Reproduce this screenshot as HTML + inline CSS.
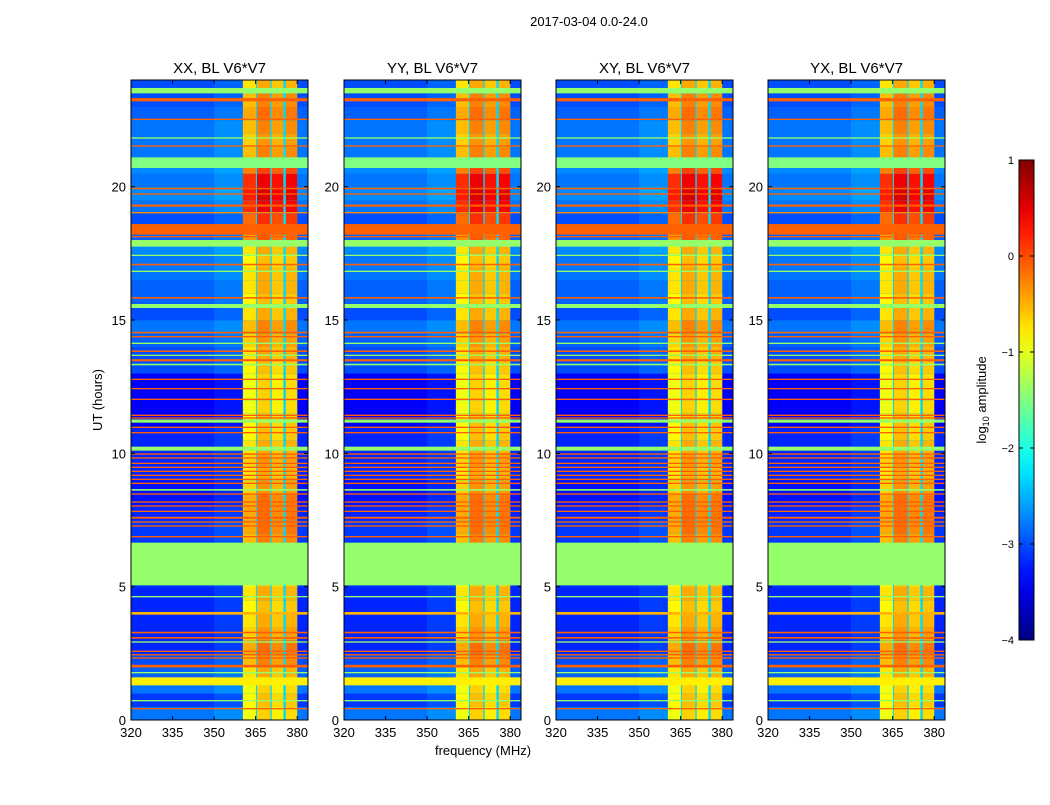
<!DOCTYPE html>
<html><head><meta charset="utf-8"><style>
body{margin:0;background:#fff;}
svg text{font-family:"Liberation Sans",sans-serif;fill:#000;}
</style></head><body>
<svg id="fig" width="1050" height="800" viewBox="0 0 1050 800" xmlns="http://www.w3.org/2000/svg">
<rect width="1050" height="800" fill="#fff"/>
<text x="589" y="26" font-size="13" text-anchor="middle">2017-03-04 0.0-24.0</text>
<text x="483" y="755" font-size="13" text-anchor="middle">frequency (MHz)</text>
<text transform="translate(102,400) rotate(-90)" font-size="13" text-anchor="middle">UT (hours)</text>
<text transform="translate(986,400) rotate(-90)" font-size="13" text-anchor="middle">log<tspan font-size="9" dy="3">10</tspan><tspan dy="-3"> amplitude</tspan></text>
</svg>
<script>
// ---- data ----
const panelTitles = ["XX, BL V6*V7","YY, BL V6*V7","XY, BL V6*V7","YX, BL V6*V7"];
const xTicks = [320,335,350,365,380];
const yTicks = [0,5,10,15,20];
const cbTicks = [1,0,-1,-2,-3,-4];
// background log10 amplitude per 0.5 h row, from 0 h to 24 h
const bgRows = [-2.8,-3.1,-2.8,-2.9,-3.0,-3.2,-3.2,-3.2,-3.2,-3.2,
                -3.1,-3.1,-3.1,-3.1,-3.1,-3.2,-3.3,-3.3,-3.2,-3.2,
                -3.2,-3.2,-3.4,-3.4,-3.4,-3.4,-3.0,-3.0,-2.9,-2.8,
                -3.0,-2.9,-2.9,-2.8,-2.8,-2.7,-2.9,-3.0,-2.8,-2.7,
                -2.8,-2.7,-2.8,-2.8,-2.8,-2.9,-3.0,-3.0];
// RFI band level per 0.5 h row
const rfiRows = [-0.8,-0.7,-0.8,-0.6,-0.4,-0.3,-0.5,-0.6,-0.7,-0.6,
                 -0.7,-0.7,-0.8,-0.4,-0.3,-0.3,-0.3,-0.5,-0.6,-0.5,
                 -0.6,-0.7,-0.7,-0.8,-0.8,-0.8,-0.7,-0.6,-0.5,-0.4,
                 -0.6,-0.7,-0.6,-0.6,-0.7,-0.6,-0.2,0.0,0.3,0.4,
                 0.3,-0.1,-0.4,-0.5,-0.4,-0.3,-0.4,-0.6];
// RFI column edges (MHz) and offsets
const rfiColStart = [360.4,365.5,370.8,375.9];
const rfiColEnd   = [365.1,370.3,375.0,380.0];
const rfiColOff   = [-0.15,0.15,0.0,0.1];
const gapValue = -2.3;
// horizontal RFI lines: start hour, thickness hour, value
const lineT = [23.5,23.2,22.5,21.8,21.5,20.7,19.9,19.7,19.25,19.0,18.55,18.2,18.1,17.75,17.4,17.05,16.8,15.8,15.45,14.5,14.35,14.1,13.8,13.65,13.45,13.3,12.75,12.4,12.0,11.4,11.3,11.15,10.95,10.75,10.1,
  9.95,9.8,9.6,9.45,9.3,9.15,9.0,8.85,8.6,8.45,8.15,8.0,7.8,7.55,7.4,7.25,6.85,5.05,4.6,3.95,3.25,3.05,2.9,2.55,2.42,2.3,1.97,1.75,1.3,0.7,0.4];
const lineH = [0.2,0.12,0.05,0.05,0.05,0.4,0.06,0.05,0.08,0.05,0.05,0.35,0.05,0.25,0.05,0.06,0.05,0.06,0.15,0.06,0.05,0.05,0.06,0.05,0.08,0.06,0.05,0.05,0.05,0.05,0.05,0.12,0.05,0.05,0.15,
  0.05,0.05,0.05,0.05,0.05,0.05,0.05,0.05,0.06,0.05,0.05,0.05,0.05,0.07,0.05,0.05,0.05,1.6,0.05,0.1,0.06,0.06,0.05,0.05,0.05,0.05,0.1,0.05,0.3,0.05,0.05];
const lineV = [-1.4,-0.1,-0.1,-1.4,-0.1,-1.5,-0.1,-0.1,-0.1,-0.3,-0.1,-0.1,-0.1,-1.4,-1.4,-0.1,-1.4,-0.1,-1.4,-0.1,-0.1,-1.4,-0.1,-1.4,-0.1,-1.4,-0.1,-0.1,-0.1,-0.1,-0.1,-1.4,-0.1,-0.1,-1.4,
  -0.1,-0.1,-0.1,-0.1,-0.1,-0.1,-0.1,-0.1,-1.4,-0.1,-0.1,-0.1,-0.1,-0.1,-0.1,-0.1,-0.1,-1.4,-1.4,-0.5,-0.1,-0.1,-1.4,-0.1,-0.1,-0.1,-0.1,-1.4,-0.8,-1.4,-0.1];
// ---- layout ----
const NS="http://www.w3.org/2000/svg";
const svg=document.getElementById('fig');
const panelX=[131,344,556,768], PW=177, PT=80, PB=720;
const fMin=320, fMax=383.9, tMin=0, tMax=24;
function jet(v){
  let n=Math.max(0,Math.min(1,(v+4)/5));
  const c=x=>Math.round(255*Math.max(0,Math.min(1,x)));
  const r=c(Math.min(4*n-1.5,-4*n+4.5)), g=c(Math.min(4*n-0.5,-4*n+3.5)), b=c(Math.min(4*n+0.5,-4*n+2.5));
  return `rgb(${r},${g},${b})`;
}
function mk(tag,attrs,parent){const e=document.createElementNS(NS,tag);for(const k in attrs)e.setAttribute(k,attrs[k]);(parent||svg).appendChild(e);return e;}
function yS(t){return PB-(t-tMin)/(tMax-tMin)*(PB-PT);}
panelX.forEach((px,pi)=>{
  const xS=f=>px+(f-fMin)/(fMax-fMin)*PW;
  const g=mk('g',{});
  
  
  bgRows.forEach((v,i)=>{
    const t0=i*0.5, y0=yS(t0+0.5), h=yS(t0)-y0;
    const r=mk('rect',{x:xS(fMin),y:y0,width:xS(fMax)-xS(fMin),height:h+0.3,fill:jet(v)},g);
    
    
    const r2=mk('rect',{x:xS(350),y:y0,width:xS(360.4)-xS(350),height:h+0.3,fill:jet(v+0.12)},g);
    
    
    const rg=mk('rect',{x:xS(rfiColStart[0]),y:y0,width:xS(rfiColEnd[3])-xS(rfiColStart[0]),height:h+0.3,fill:jet(gapValue)},g);
    
    
    rfiColStart.forEach((cs,ci)=>{
      const c=mk('rect',{x:xS(cs),y:y0,width:xS(rfiColEnd[ci])-xS(cs),height:h+0.3,fill:jet(rfiRows[i]+rfiColOff[ci])},g);
      
      
    });
  });
  lineT.forEach((t,i)=>{
    const y0=yS(t+lineH[i]), h=Math.max(1.2,yS(t)-y0);
    const l=mk('rect',{x:px,y:y0,width:PW,height:h,fill:jet(lineV[i])},g);
    
    
  });
  const fr=mk('rect',{x:px,y:PT,width:PW,height:PB-PT,fill:'none',stroke:'#000','stroke-width':1});
  
  
  const ti=mk('text',{x:px+PW/2,y:PT-7,'font-size':15,'text-anchor':'middle'});
  ti.textContent=panelTitles[pi];
  
  
  xTicks.forEach(f=>{
    const x=xS(f);
    mk('line',{x1:x,x2:x,y1:PB,y2:PB-4,stroke:'#000'});
    mk('line',{x1:x,x2:x,y1:PT,y2:PT+4,stroke:'#000'});
    const tx=mk('text',{x:x,y:PB+17,'font-size':13,'text-anchor':'middle'});
    tx.textContent=f;
    
    
  });
  yTicks.forEach(t=>{
    const y=yS(t);
    mk('line',{x1:px,x2:px+4,y1:y,y2:y,stroke:'#000'});
    mk('line',{x1:px+PW,x2:px+PW-4,y1:y,y2:y,stroke:'#000'});
    const ty=mk('text',{x:px-5,y:y+5,'font-size':13,'text-anchor':'end'});
    ty.textContent=t;
    
    
  });
});
// colorbar
const CX=1019,CW=15,CT=160,CB=640;
const defs=mk('defs',{});
const lg=mk('linearGradient',{id:'jetg',x1:0,y1:1,x2:0,y2:0},defs);
for(let i=0;i<=20;i++){mk('stop',{offset:i/20,'stop-color':jet(-4+5*i/20)},lg);}
const cb=mk('rect',{x:CX,y:CT,width:CW,height:CB-CT,fill:'url(#jetg)',stroke:'#000','stroke-width':1});


cbTicks.forEach(v=>{
  const y=CB-(v+4)/5*(CB-CT);
  mk('line',{x1:CX,x2:CX+4,y1:y,y2:y,stroke:'#000'});
  mk('line',{x1:CX+CW,x2:CX+CW-4,y1:y,y2:y,stroke:'#000'});
  const t=mk('text',{x:CX-5,y:y+4,'font-size':11,'text-anchor':'end'});
  t.textContent=v<0?'\u2212'+(-v):v;
  
  
});
</script>
</body></html>
